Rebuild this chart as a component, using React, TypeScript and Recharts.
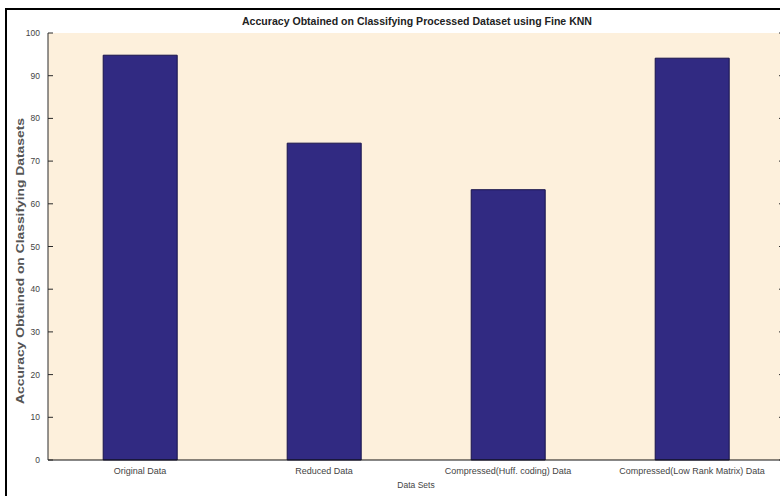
import { BarChart, Bar, XAxis, YAxis, CartesianGrid } from "recharts";

const categories = [
  "Original Data",
  "Reduced Data",
  "Compressed(Huff. coding) Data",
  "Compressed(Low Rank Matrix) Data",
];
const accuracy = [94.8, 74.2, 63.3, 94.1];
const yTicks = [0, 10, 20, 30, 40, 50, 60, 70, 80, 90, 100];

const data = categories.map((name, i) => ({ name, acc: accuracy[i] }));

const FONT = "'Liberation Sans', Arial, Helvetica, sans-serif";
const AXIS = "#2a2a2a";

// left axis: label outside, tick mark pointing into the plot
const LeftTick = (props: any) => {
  const { x, y, payload } = props;
  return (
    <g>
      <line x1={x} x2={x + 5} y1={y} y2={y} stroke={AXIS} />
      <text x={x - 8} y={y} dy={3} textAnchor="end" fontSize={8.5} fill="#444" fontFamily={FONT}>
        {payload.value}
      </text>
    </g>
  );
};

const RightTick = (props: any) => {
  const { x, y } = props;
  return <line x1={x - 5} x2={x} y1={y} y2={y} stroke={AXIS} />;
};

const TopTick = (props: any) => {
  const { x, y } = props;
  return <line x1={x} x2={x} y1={y} y2={y + 5} stroke={AXIS} />;
};

export default function App() {
  return (
    <div
      style={{
        position: "fixed",
        left: 0,
        top: 0,
        width: 780,
        height: 496,
        overflow: "hidden",
        background: "#fff",
        fontFamily: FONT,
      }}
    >
      <div
        style={{
          position: "absolute",
          left: 5,
          top: 8,
          width: 820,
          height: 600,
          border: "2px solid #000",
        }}
      />
      <div style={{ position: "absolute", left: 0, top: 0 }}>
        <BarChart
          width={800}
          height={496}
          data={data}
          margin={{ top: 33, right: 0, bottom: 0, left: 0 }}
          barCategoryGap="30%"
        >
          <CartesianGrid horizontal={false} vertical={false} fill="#FDF0DC" />
          <XAxis
            dataKey="name"
            height={36}
            interval={0}
            tickLine={false}
            tickSize={0}
            tickMargin={8}
            axisLine={{ stroke: "#111" }}
            tick={{ fontSize: 9, fill: "#444", fontFamily: FONT }}
            label={{
              value: "Data Sets",
              position: "insideBottom",
              offset: 8,
              fontSize: 8.5,
              fill: "#444",
              fontFamily: FONT,
            }}
          />
          <XAxis
            xAxisId="top"
            dataKey="name"
            orientation="top"
            height={0}
            interval={0}
            tickLine={false}
            tickSize={0}
            tickMargin={0}
            axisLine={{ stroke: AXIS }}
            tick={TopTick}
          />
          <YAxis
            width={48}
            domain={[0, 100]}
            ticks={yTicks}
            interval={0}
            tickLine={false}
            tickSize={0}
            tickMargin={0}
            axisLine={{ stroke: AXIS }}
            tick={LeftTick}
          />
          <YAxis
            yAxisId="r"
            orientation="right"
            dataKey="acc"
            width={16}
            domain={[0, 100]}
            ticks={yTicks}
            interval={0}
            tickLine={false}
            tickSize={0}
            tickMargin={0}
            axisLine={{ stroke: AXIS }}
            tick={RightTick}
          />
          <Bar
            dataKey="acc"
            fill="#312A82"
            stroke="#17124A"
            strokeWidth={1}
            isAnimationActive={false}
          />
        </BarChart>
      </div>
      <svg
        width={780}
        height={496}
        style={{ position: "absolute", left: 0, top: 0, pointerEvents: "none" }}
      >
        <text
          x={417}
          y={25}
          textAnchor="middle"
          fontSize={10}
          fontWeight="bold"
          fill="#222"
          fontFamily={FONT}
          textLength={350}
          lengthAdjust="spacingAndGlyphs"
        >
          Accuracy Obtained on Classifying Processed Dataset using Fine KNN
        </text>
        <text
          x={0}
          y={0}
          transform="translate(24 261) rotate(-90)"
          textAnchor="middle"
          fontSize={11}
          fontWeight="bold"
          fill="#555"
          fontFamily={FONT}
          textLength={286}
          lengthAdjust="spacingAndGlyphs"
        >
          Accuracy Obtained on Classifying Datasets
        </text>
      </svg>
    </div>
  );
}
